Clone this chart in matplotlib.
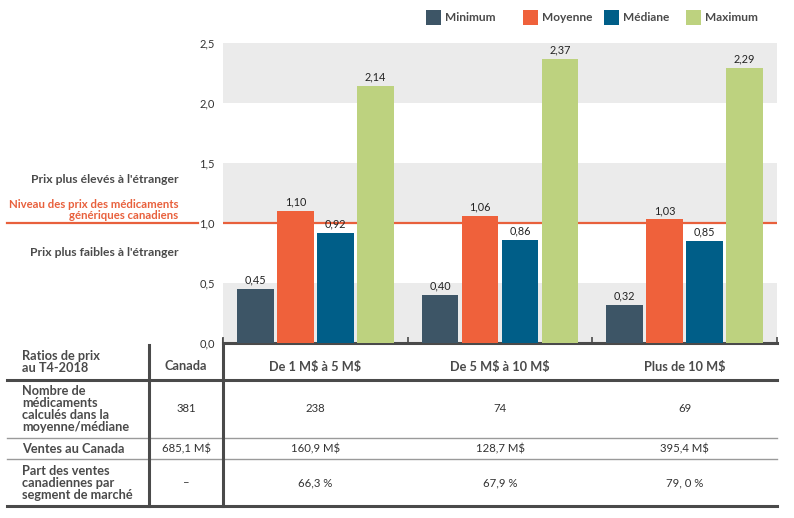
import matplotlib
matplotlib.use("Agg")
import matplotlib.pyplot as plt
import numpy as np
from matplotlib.transforms import blended_transform_factory as btf
from matplotlib.patches import Rectangle

plt.rcParams['font.family'] = ['Lato', 'DejaVu Sans']

# ---------------- data ----------------
groups = ["De 1 M$ à 5 M$", "De 5 M$ à 10 M$", "Plus de 10 M$"]
series_names = ["Minimum", "Moyenne", "Médiane", "Maximum"]
minimum = [0.45, 0.40, 0.32]
moyenne = [1.10, 1.06, 1.03]
mediane = [0.92, 0.86, 0.85]
maximum = [2.14, 2.37, 2.29]
reference_level = 1.0
y_ticks = [0.0, 0.5, 1.0, 1.5, 2.0, 2.5]

table_corner = "Ratios de prix\nau T4-2018"
canada_header = "Canada"
row_labels = ["Nombre de\nmédicaments\ncalculés dans la\nmoyenne/médiane",
              "Ventes au Canada",
              "Part des ventes\ncanadiennes par\nsegment de marché"]
canada_values = ["381", "685,1 M$", "–"]
group_counts = ["238", "74", "69"]
group_sales = ["160,9 M$", "128,7 M$", "395,4 M$"]
group_shares = ["66,3 %", "67,9 %", "79, 0 %"]

colors = ["#3d5566", "#ef613b", "#005e88", "#bdd27f"]
band = "#ebebeb"
dark = "#4a4a4a"
txt = "#333333"
red = "#e8603c"


def esc(s):
    return s.replace("$", r"\$")


W, H = 794, 518
fig = plt.figure(figsize=(W / 100, H / 100), dpi=100)

# overlay (pixel coordinates) for the table and legend
ov = fig.add_axes([0, 0, 1, 1])
ov.set_xlim(0, W)
ov.set_ylim(H, 0)
ov.axis('off')

ax = fig.add_axes([223 / W, (H - 343) / H, 554 / W, 300 / H])
ax.set_zorder(2)
ax.patch.set_alpha(0)

x = np.arange(len(groups))
pitch = 0.2165
bw = 0.2
all_series = [minimum, moyenne, mediane, maximum]
for i, (vals, c, name) in enumerate(zip(all_series, colors, series_names)):
    bars = ax.bar(x + (i - 1.5) * pitch, vals, width=bw, color=c, label=name, zorder=3)
    for b, v in zip(bars, vals):
        ax.annotate(f"{v:.2f}".replace(".", ","), (b.get_x() + b.get_width() / 2, v),
                    xytext=(0, 2.5), textcoords="offset points", ha="center", va="bottom",
                    fontsize=7.8, color="#222222", zorder=4)

for lo in (0.0, 1.0, 2.0):
    ax.axhspan(lo, lo + 0.5, color=band, zorder=0, lw=0)
ax.axhline(reference_level, color=red, lw=1.6, zorder=1)
tr = btf(ax.transAxes, ax.transData)
ax.plot([-0.39, -0.045], [reference_level, reference_level], color=red, lw=1.6,
        transform=tr, clip_on=False)

ax.set_xlim(-0.5, 2.5)
ax.set_ylim(0, 2.5)
ax.set_yticks(y_ticks)
ax.set_yticklabels([f"{t:.1f}".replace(".", ",") for t in y_ticks], fontsize=8, color=txt)
ax.tick_params(axis='y', length=0, pad=6)
ax.set_xticks([-0.5, 0.5, 1.5, 2.5])
ax.set_xticklabels([])
ax.tick_params(axis='x', direction='in', length=4, width=1.2, color=dark)
for s in ("top", "right", "left"):
    ax.spines[s].set_visible(False)
ax.spines["bottom"].set_color(dark)
ax.spines["bottom"].set_linewidth(2.2)

# left annotations
ax.text(-0.081, 1.36, "Prix plus élevés à l'étranger", transform=tr, ha="right", va="center",
        fontsize=8.7, color=dark, fontweight="bold")
ax.text(-0.081, 1.02, "Niveau des prix des médicaments\ngénériques canadiens", transform=tr,
        ha="right", va="bottom", fontsize=8.2, color=red, fontweight="bold",
        linespacing=0.95)
ax.text(-0.081, 0.75, "Prix plus faibles à l'étranger", transform=tr, ha="right", va="center",
        fontsize=8.7, color=dark, fontweight="bold")

# legend (manual, pixel layout)
leg_sq_x = [426, 523, 604, 686]
for sx, c, name in zip(leg_sq_x, colors, series_names):
    ov.add_patch(Rectangle((sx, 10), 15, 15, color=c, lw=0))
    ov.text(sx + 19, 17.5, name, ha="left", va="center", fontsize=8.6, color=dark,
            fontweight="bold")

# table lines
ov.plot([7, 777], [380, 380], color=dark, lw=2.2)
ov.plot([7, 777], [438, 438], color="#9a9a9a", lw=1)
ov.plot([7, 777], [459, 459], color="#9a9a9a", lw=1)
ov.plot([7, 777], [506, 506], color=dark, lw=2.2)
ov.plot([149, 149], [345, 506], color=dark, lw=2.2)
ov.plot([223, 223], [339, 506], color=dark, lw=2.2)

# table text
lab_fs = 9.2
ov.text(22, 362, table_corner, ha="left", va="center", fontsize=lab_fs, color=dark,
        fontweight="bold", linespacing=1.05)
ov.text(186, 366, canada_header, ha="center", va="center", fontsize=lab_fs, color=dark,
        fontweight="bold")
row_y = [409, 449, 483]
for lab, yy in zip(row_labels, row_y):
    ov.text(22, yy, lab, ha="left", va="center", fontsize=lab_fs, color=dark,
            fontweight="bold", linespacing=0.98)
for val, yy in zip(canada_values, row_y):
    ov.text(186, yy, esc(val), ha="center", va="center", fontsize=8.2, color=txt)

gt = btf(ax.transData, ov.transData)
for xi, g in zip(x, groups):
    ov.text(xi, 367, esc(g), transform=gt, ha="center", va="center", fontsize=lab_fs,
            color=dark, fontweight="bold")
for col, yy in zip([group_counts, group_sales, group_shares], row_y):
    for xi, v in zip(x, col):
        ov.text(xi, yy, esc(v), transform=gt, ha="center", va="center", fontsize=8.2,
                color=txt)

fig.savefig("out.png", dpi=100)
